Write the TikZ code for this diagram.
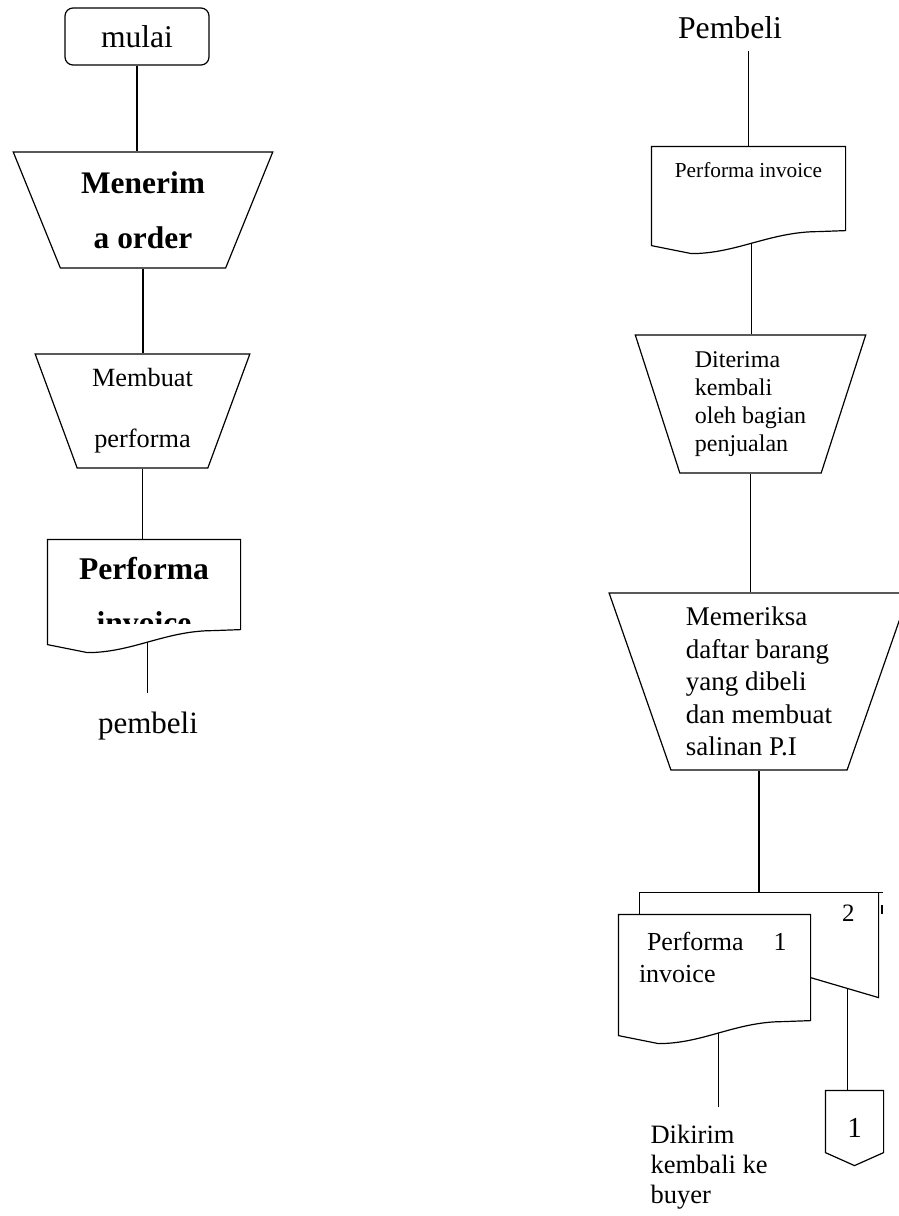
\documentclass[tikz,border=0pt]{standalone}
\usepackage{fontspec}
\setmainfont{Liberation Serif}
\usepackage{tikz}
\usetikzlibrary{shapes.geometric, calc}

\tikzset{
  proc/.style={trapezium, draw, trapezium stretches=true, align=center},
  docbox/.style={rectangle, minimum width=192},
}

\newcommand{\docoutline}[2][]{%
  \draw[#1] ([shift={(0,-8)}]#2.south west) -- ([shift={(40,0)}]#2.south west)
    .. controls ([shift={(85,0)}]#2.south west) and ([shift={(-75,-22)}]#2.south east) ..
    ([shift={(-27,-22)}]#2.south east) -- ([shift={(0,-23)}]#2.south east)
    -- (#2.north east) -- (#2.north west) -- cycle;
  \coordinate (#2-w) at ([shift={(100,-11)}]#2.south west);}

\begin{document}
\begin{tikzpicture}[x=1pt, y=-1pt, line width=1.2pt, every node/.style={inner sep=3pt}]
\useasboundingbox (0,0) rectangle (899,1216);

\node (m) [draw, rounded corners=8pt, minimum width=144, minimum height=57, font=\fontsize{31.6}{36}\selectfont] at (137,36.5) {mulai};
\node (p1) [proc, trapezium left angle=114, trapezium right angle=114, minimum width=260, minimum height=116, font=\fontsize{31.4}{55}\selectfont\bfseries] at (143,210) {Menerim\\a order};
\node (p2) [proc, trapezium left angle=110.7, trapezium right angle=110.7, minimum width=215, minimum height=114, font=\fontsize{26.3}{61}\selectfont] at (142.5,411) {Membuat\\performa};
\begin{scope}
  \clip (40,535) rectangle (250,623);
  \node (d1) [docbox, minimum height=112, align=center, font=\fontsize{31.6}{54}\selectfont\bfseries] at (144,596) {Performa\\invoice};
\end{scope}
\docoutline{d1}
\node (b1) [font=\fontsize{31}{36}\selectfont] at (148,725.8) {pembeli};

\draw (m.south) -- (m.south |- p1.north);
\draw (p1.south) -- (p1.south |- p2.north);
\draw (p2.south) -- (p2.south |- d1.north);
\draw[shorten >=15pt] (d1-w) -- (d1-w |- b1.north);

\node (b2) [font=\fontsize{31.7}{36}\selectfont] at (730,27.2) {Pembeli};
\node (d2) [docbox, minimum width=193, minimum height=106, label={[font=\fontsize{21.3}{25}\selectfont, anchor=north, yshift=-12pt]north:Performa invoice}] at (748.5,200) {};
\docoutline{d2}
\node (p3) [proc, trapezium left angle=108.4, trapezium right angle=108.4, minimum width=231, minimum height=138, align=left, font=\fontsize{24}{28}\selectfont] at (750.5,404) {Diterima\\kembali\\oleh bagian\\penjualan};
\node (p4) [proc, trapezium left angle=109, trapezium right angle=109, minimum width=301, minimum height=177, align=left, font=\fontsize{27}{32.5}\selectfont] at (759,681.5) {Memeriksa\\daftar barang\\yang dibeli\\dan membuat\\salinan P.I};

\node (d3b) [rectangle, minimum width=238, minimum height=104, label={[font=\fontsize{25}{30}\selectfont, anchor=north east, xshift=-20.5pt, yshift=-8.8pt]north east:2}] at (759,945) {};
\draw ([shift={(0,22)}]d3b.north west) -- (d3b.north west) -- ([shift={(4,0)}]d3b.north east);
\draw (d3b.north east) -- (d3b.south east) -- ([shift={(-68,-20)}]d3b.south east);
\draw[line width=2pt] ([shift={(3,13)}]d3b.north east) -- ++(0,9);
\coordinate (d3b-w) at ([shift={(-31,-9)}]d3b.south east);

\node (d3) [docbox, minimum width=191, minimum height=128, label={[anchor=north west, align=left, font=\fontsize{26}{32}\selectfont, xshift=17pt, yshift=-13.8pt]north west:\hspace*{8pt}Performa\hspace{30pt}1\\invoice}] at (714.5,979) {};
\docoutline{d3}

\node (k) [anchor=north west, align=left, font=\fontsize{26.5}{30}\selectfont] at (647,1121.6) {Dikirim\\kembali ke\\buyer};
\node (c1) [rectangle, minimum width=57, minimum height=61, text height=31pt, font=\fontsize{29}{34}\selectfont] at (854.5,1121.5) {1};
\draw (c1.south west) -- (c1.north west) -- (c1.north east) -- (c1.south east) -- ([shift={(0,13)}]c1.south) -- cycle;

\draw[shorten <=9pt] (d2.north |- b2.south) -- (d2.north);
\draw (d2-w) -- (d2-w |- p3.north);
\draw (p3.south) -- (p3.south |- p4.north);
\draw (p4.south) -- (p4.south |- d3b.north);
\draw[shorten >=15pt] (d3-w) -- (d3-w |- k.north);
\draw (d3b-w) -- (d3b-w |- c1.north);
\end{tikzpicture}
\end{document}
